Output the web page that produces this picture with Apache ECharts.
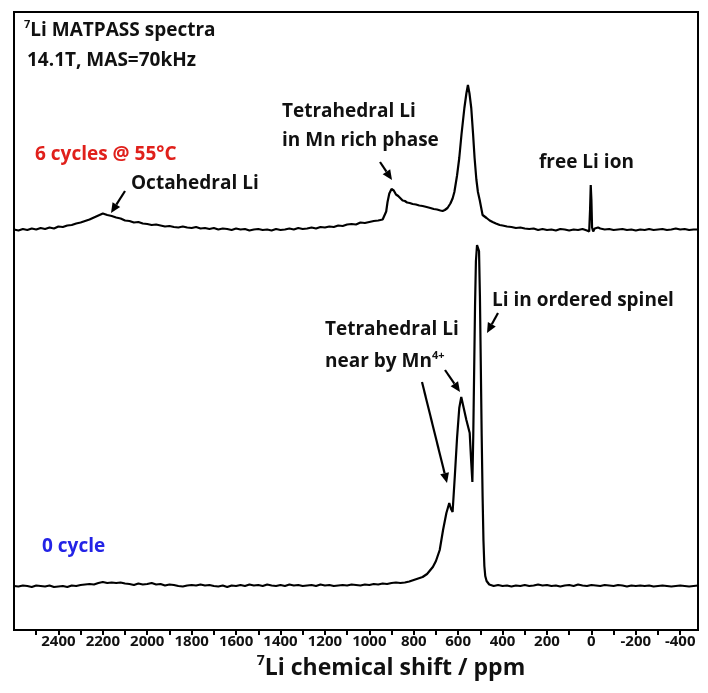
<!DOCTYPE html>
<html><head><meta charset="utf-8">
<script src="https://cdn.jsdelivr.net/npm/echarts@6/dist/echarts.min.js"></script>
<style>html,body{margin:0;padding:0;background:#fff}#c{width:708px;height:693px}</style>
</head><body><div id="c"></div>
<script>
// [ppm, intensity above own baseline]
const spectrum6cycles = [
[2600,0],[2580,-1],[2560,0.5],[2540,-0.5],[2520,1],[2500,0],[2480,1.5],[2460,0.5],[2440,2],[2420,1],
[2400,3],[2380,2.5],[2360,4],[2340,4.5],[2320,6],[2300,7],[2280,8.5],[2260,10],[2240,12],[2220,14],
[2200,16],[2180,14.5],[2160,13.5],[2140,12],[2120,11],[2100,9],[2080,8.5],[2060,7],[2040,7.5],[2020,6],
[2000,5.5],[1980,4.5],[1960,5],[1940,4],[1920,3],[1900,3.5],[1880,2.5],[1860,2],[1840,3],[1820,2],
[1800,1.5],[1780,2.5],[1760,1],[1740,1.5],[1720,0.5],[1700,1.5],[1680,0],[1660,1],[1640,0.5],[1620,-0.5],
[1600,1],[1580,0],[1560,0.5],[1540,-1],[1520,0],[1500,0.5],[1480,-0.5],[1460,0],[1440,-1],[1420,0.5],
[1400,-0.5],[1380,0],[1360,1],[1340,0],[1320,1.5],[1300,0.5],[1280,1],[1260,2],[1240,1],[1220,2.5],
[1200,2],[1180,3],[1160,2.5],[1140,4],[1120,3.5],[1100,5],[1080,5.5],[1060,5],[1040,7],[1020,6.5],
[1000,7.5],[980,8.5],[960,9],[940,10],[931,11.5],[924,18],[918,27.5],[910,36],[900,40.5],[890,39],
[880,35],[870,33.5],[863,31.5],[850,29],[840,28.5],[830,27],[818,26.5],[805,25.5],[790,25],[775,24],
[760,23.5],[742,22.5],[725,21.5],[710,20.5],[695,20],[680,19],[670,18.5],[660,19.5],[648,21.5],[635,26],
[625,31],[617,37.5],[605,54],[595,71.5],[585,95],[572,121.5],[563,136],[556,144.5],[549,136],[541,121.5],
[533,96],[526,71.5],[518,50],[511,37.5],[503,29.5],[490,14.5],[472,11.5],[458,9],[445,7.5],[430,6],
[413,4.5],[400,4],[380,3],[360,2.5],[340,1.5],[320,2],[300,1],[280,0.5],[260,1],[240,-0.5],
[220,0.5],[200,-0.5],[180,0],[160,-1],[140,0.5],[120,0],[100,-1],[80,0],[60,-0.5],[40,0.5],
[20,-1],[10,-2],[6,20],[3,44.5],[0,30],[-3,2],[-8,-2],[-15,1],[-20,0],[-30,2],
[-40,1],[-60,0],[-80,0.5],[-100,-0.5],[-120,0],[-140,0.5],[-160,-0.5],[-180,0],[-200,-1],[-220,0],
[-240,-0.5],[-260,0.5],[-280,-0.5],[-300,0],[-320,0.5],[-340,-0.5],[-360,0],[-380,1],[-400,0],[-420,0.5],
[-440,-0.5],[-460,0],[-480,0]
];
const spectrum0cycle = [
[2600,0],[2580,-0.5],[2560,0.5],[2540,0],[2520,-1],[2500,0.5],[2480,0],[2460,-0.5],[2440,0.5],[2420,-1],
[2400,-0.5],[2380,0],[2360,-1],[2340,0.5],[2320,0],[2300,1],[2280,1.5],[2260,2],[2240,1.5],[2220,3],
[2200,4],[2180,3],[2160,3.5],[2140,3],[2120,3.5],[2100,2.5],[2080,2],[2060,1],[2040,2.5],[2020,1.5],
[2000,2],[1980,3],[1960,1.5],[1940,2],[1920,0.5],[1900,1.5],[1880,1],[1860,0],[1840,-0.5],[1820,0.5],
[1800,1],[1780,0.5],[1760,1.5],[1740,0.5],[1720,1],[1700,0],[1680,-0.5],[1660,0.5],[1640,-1],[1620,0.5],
[1600,0],[1580,1],[1560,0],[1540,1.5],[1520,0.5],[1500,1],[1480,0],[1460,1.5],[1440,0.5],[1420,0],
[1400,1],[1380,0],[1360,1.5],[1340,0.5],[1320,1],[1300,0],[1280,0.5],[1260,1],[1240,0],[1220,1.5],
[1200,0.5],[1180,1],[1160,0],[1140,0.5],[1120,1],[1100,0.5],[1080,1.5],[1060,1],[1040,0.5],[1020,1.5],
[1000,1],[980,2],[960,1.5],[940,2.5],[920,2],[900,3],[880,3.5],[860,3],[840,3.5],[820,4.5],
[800,6],[780,7.5],[760,9],[740,12],[714,19],[700,25],[683,36],[668,56],[653,73],[640,83],
[632,77],[625,74],[615,110],[605,148],[595,178],[586,189],[575,178],[563,166],[548,153],[541,123],
[536,104],[532,150],[528,215],[524,280],[520,325],[515,341],[510,342],[506,335],[502,290],[498,220],
[494,150],[490,90],[486,45],[482,20],[478,10],[472,5],[466,3],[460,1.5],[440,0],[420,1],
[400,0],[380,0.5],[360,-0.5],[340,0.5],[320,0],[300,1],[280,0],[260,0.5],[240,1.5],[220,0.5],
[200,1],[180,0],[160,0.5],[140,-0.5],[120,0.5],[100,1],[80,0],[60,1.5],[40,0.5],[20,0],
[0,1],[-20,0.5],[-40,0],[-60,1],[-80,0.5],[-100,0],[-120,1],[-140,0.5],[-160,-0.5],[-180,0.5],
[-200,0],[-220,0.5],[-240,0],[-260,0.5],[-280,-0.5],[-300,0],[-320,0.5],[-340,0],[-360,-0.5],[-380,0],
[-400,0.5],[-420,0],[-440,-0.5],[-460,0],[-480,0.5]
];
const offset6cycles = 400.5;
const offset0cycle = 44;
const xMin = -480, xMax = 2600;
const xTickValues = [2500,2400,2300,2200,2100,2000,1900,1800,1700,1600,1500,1400,1300,1200,1100,1000,900,800,700,600,500,400,300,200,100,0,-100,-200,-300,-400];
const xLabelValues = [2400,2200,2000,1800,1600,1400,1200,1000,800,600,400,200,0,-200,-400];

const FONT = '"Open Sans", "Liberation Sans", sans-serif';
const chart = echarts.init(document.getElementById('c'), null, {renderer: 'canvas'});

function arrow(x1, y1, x2, y2) {
  const a = Math.atan2(y2 - y1, x2 - x1), L = 10, W = 4.5;
  const bx = x2 - L * Math.cos(a), by = y2 - L * Math.sin(a);
  return [
    {type: 'line', shape: {x1: x1, y1: y1, x2: bx, y2: by}, style: {stroke: '#000', lineWidth: 2.2}, z: 10},
    {type: 'polygon', shape: {points: [[x2, y2], [bx + W * Math.sin(a), by - W * Math.cos(a)], [bx - W * Math.sin(a), by + W * Math.cos(a)]]}, style: {fill: '#000'}, z: 10}
  ];
}
function txt(x, y, text, color, size, extra) {
  const c = color || '#111', fs = size || 19;
  return {type: 'text', x: x, y: y, z: 10, style: Object.assign({
    text: text, fill: c, fontFamily: FONT, fontWeight: 700, fontSize: fs,
    verticalAlign: 'middle', align: 'left',
    rich: {
      s: {fontSize: Math.round(fs * 0.6), fontWeight: 700, fontFamily: FONT, verticalAlign: 'top', lineHeight: fs + 4, fill: c},
      n: {fontSize: fs, fontWeight: 700, fontFamily: FONT, lineHeight: fs + 4, fill: c}
    }
  }, extra || {})};
}

const graphics = [].concat(
  [txt(24, 31, '{s|7}{n|Li MATPASS spectra}')],
  [txt(27, 61, '14.1T, MAS=70kHz')],
  [txt(35, 155, '6 cycles @ 55°C', '#e0201b')],
  [txt(131, 184, 'Octahedral Li')],
  [txt(282, 112, 'Tetrahedral Li')],
  [txt(282, 141, 'in Mn rich phase')],
  [txt(539, 163, 'free Li ion')],
  [txt(492, 301, 'Li in ordered spinel')],
  [txt(325, 330, 'Tetrahedral Li')],
  [txt(325, 362, '{n|near by Mn}{s|4+}')],
  [txt(42, 547, '0 cycle', '#2323e6')],
  [txt(391, 668, '{s|7}{n|Li chemical shift / ppm}', '#111', 23, {align: 'center'})],
  arrow(125, 191, 111, 213),
  arrow(380, 162, 392, 180),
  arrow(445, 370, 460, 392),
  arrow(422, 382, 447, 483),
  arrow(498, 313, 487, 333)
);

const option = {
  animation: false,
  backgroundColor: '#fff',
  grid: {left: 14, right: 10, top: 12, bottom: 63, show: true, borderColor: '#000', borderWidth: 2, backgroundColor: 'transparent'},
  xAxis: {
    type: 'value', inverse: true, min: xMin, max: xMax,
    axisLine: {show: true, lineStyle: {color: '#000', width: 2}},
    axisTick: {show: true, inside: false, length: 5, lineStyle: {color: '#000', width: 2}, customValues: xTickValues},
    axisLabel: {margin: 4, color: '#111', fontFamily: FONT, fontWeight: 700, fontSize: 15,
      customValues: xLabelValues, hideOverlap: false, formatter: v => String(v)},
    splitLine: {show: false}
  },
  yAxis: {type: 'value', min: 0, max: 618, show: false},
  series: [
    {type: 'line', data: spectrum6cycles.map(d => [d[0], d[1] + offset6cycles]), showSymbol: false, symbol: 'none',
     lineStyle: {color: '#000', width: 2.2}, z: 5},
    {type: 'line', data: spectrum0cycle.map(d => [d[0], d[1] + offset0cycle]), showSymbol: false, symbol: 'none',
     lineStyle: {color: '#000', width: 2.2}, z: 5}
  ],
  graphic: graphics
};
chart.setOption(option);
</script></body></html>
